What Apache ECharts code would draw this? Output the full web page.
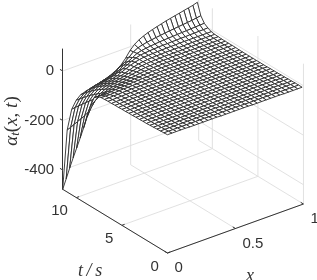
<!DOCTYPE html>
<html><head><meta charset="utf-8">
<style>html,body{margin:0;padding:0;background:#fff}#c{width:317px;height:280px}</style>
<script src="https://cdn.jsdelivr.net/npm/echarts@6/dist/echarts.min.js"></script>
</head><body><div id="c"></div>
<script>
const xs=[0,.033,.066,.099,.132,.165,.198,.231,.264,.297,.33,.363,.396,.429,.462,.495,.528,.561,.594,.627,.66,.693,.726,.759,.792,.825,.858,.891,.924,.957,.99];
const ts=[0,.383,.767,1.15,1.533,1.917,2.3,2.683,3.067,3.45,3.833,4.217,4.6,4.983,5.367,5.75,6.133,6.517,6.9,7.283,7.667,8.05,8.433,8.817,9.2,9.583,9.967,10.35,10.733,11.117,11.5];
const zRows=[
[0, 0,0,0,0,-1,-1,-1,-1,-1,-1, -1,-2,-2,-2,-2,-2,-2,-2,-3,-3, -3,-3,-3,-3,-3,-4,-4,-4,-4,-4],
[-1, -1,-1,-1,-1,-1,-1,-1,-1,-1,-2, -2,-2,-2,-2,-2,-2,-2,-3,-3,-3, -3,-3,-3,-3,-3,-4,-4,-4,-4,-4],
[-2, -2,-2,-2,-2,-2,-2,-2,-2,-2,-2, -3,-3,-3,-3,-3,-3,-3,-3,-3,-3, -4,-4,-4,-4,-4,-4,-4,-4,-4,-4],
[-3, -3,-3,-3,-3,-3,-3,-3,-3,-3,-3, -3,-3,-3,-4,-4,-4,-4,-4,-4,-4, -4,-4,-4,-4,-4,-4,-4,-5,-5,-5],
[-4, -4,-4,-4,-4,-4,-4,-4,-4,-4,-4, -4,-4,-4,-4,-4,-4,-4,-4,-5,-5, -5,-5,-5,-5,-5,-5,-5,-5,-5,-5],
[-5, -5,-5,-5,-5,-5,-5,-5,-5,-5,-5, -5,-5,-5,-5,-5,-5,-5,-5,-5,-5, -5,-5,-5,-5,-5,-5,-5,-5,-6,-6],
[-6, -5,-5,-5,-5,-5,-5,-5,-5,-5,-5, -5,-5,-5,-5,-5,-5,-5,-6,-6,-6, -6,-6,-6,-6,-6,-6,-6,-6,-6,-6],
[-6, -6,-6,-6,-6,-6,-6,-6,-6,-6,-6, -6,-6,-6,-6,-6,-6,-6,-6,-6,-6, -6,-6,-6,-6,-6,-7,-7,-7,-7,-7],
[-7, -6,-6,-6,-6,-6,-6,-6,-6,-6,-6, -6,-6,-6,-6,-6,-6,-6,-6,-6,-7, -7,-7,-7,-7,-7,-7,-7,-7,-7,-7],
[-7, -7,-6,-6,-6,-6,-6,-6,-6,-6,-6, -6,-6,-6,-7,-7,-7,-7,-7,-7,-7, -7,-7,-7,-7,-7,-7,-7,-7,-7,-7],
[-8, -7,-7,-7,-6,-6,-6,-6,-6,-6,-7, -7,-7,-7,-7,-7,-7,-7,-7,-7,-7, -7,-7,-7,-7,-7,-7,-7,-7,-7,-8],
[-8, -8,-7,-7,-7,-7,-7,-7,-7,-7,-7, -7,-7,-7,-7,-7,-7,-7,-7,-7,-7, -7,-7,-7,-7,-7,-7,-8,-8,-8,-8],
[-9, -8,-8,-7,-7,-7,-7,-7,-7,-7,-7, -7,-7,-7,-7,-7,-7,-7,-7,-7,-7, -8,-8,-8,-8,-8,-8,-8,-8,-8,-8],
[-9, -9,-8,-8,-7,-7,-7,-7,-7,-7,-7, -7,-7,-7,-7,-7,-7,-7,-8,-8,-8, -8,-8,-8,-8,-8,-8,-8,-8,-8,-8],
[-10, -9,-9,-8,-8,-8,-7,-7,-7,-7,-7, -7,-7,-7,-7,-8,-8,-8,-8,-8,-8, -8,-8,-8,-8,-8,-8,-8,-8,-8,-8],
[-10, -10,-9,-9,-8,-8,-8,-8,-8,-7,-7, -7,-7,-7,-8,-8,-8,-8,-8,-8,-8, -8,-8,-8,-8,-8,-8,-8,-8,-8,-8],
[-11, -10,-10,-9,-9,-8,-8,-8,-8,-8,-8, -8,-8,-8,-8,-8,-8,-8,-8,-8,-8, -8,-8,-8,-8,-8,-8,-8,-8,-8,-8],
[-11, -11,-10,-10,-9,-9,-9,-8,-8,-8,-8, -8,-8,-8,-8,-8,-8,-8,-8,-8,-8, -8,-8,-8,-8,-8,-8,-8,-8,-8,-8],
[-12, -12,-11,-11,-10,-10,-9,-9,-9,-8,-8, -8,-8,-8,-8,-8,-8,-8,-8,-8,-8, -8,-8,-8,-8,-8,-8,-8,-8,-8,-8],
[-13, -14,-14,-13,-12,-11,-11,-10,-10,-9,-9, -9,-8,-8,-8,-8,-8,-8,-8,-8,-8, -8,-8,-8,-8,-8,-8,-8,-8,-8,-7],
[-17, -20,-20,-18,-16,-15,-14,-13,-12,-11,-10, -10,-9,-9,-8,-8,-8,-8,-8,-8,-8, -8,-8,-8,-8,-8,-8,-7,-7,-7,-7],
[-30, -31,-30,-26,-23,-20,-19,-17,-16,-14,-13, -11,-10,-9,-9,-8,-8,-8,-8,-8,-8, -8,-8,-8,-8,-7,-7,-7,-7,-7,-7],
[-72, -58,-46,-38,-31,-27,-25,-23,-21,-18,-16, -13,-11,-10,-9,-9,-8,-8,-8,-8,-8, -7,-7,-7,-7,-7,-7,-7,-7,-7,-7],
[-125, -90,-63,-50,-40,-34,-31,-29,-26,-23,-19, -16,-13,-11,-10,-9,-8,-8,-8,-7,-7, -7,-7,-7,-7,-7,-7,-7,-7,-7,-7],
[-178, -122,-78,-61,-49,-42,-39,-36,-33,-29,-24, -19,-15,-12,-10,-9,-8,-8,-7,-7,-7, -7,-7,-6,-6,-6,-6,-6,-6,-6,-6],
[-228, -145,-92,-72,-59,-51,-47,-44,-40,-36,-31, -25,-18,-14,-11,-9,-8,-7,-7,-6,-6, -6,-6,-6,-5,-5,-5,-5,-5,-5,-5],
[-277, -165,-107,-84,-70,-61,-56,-53,-49,-44,-36, -28,-21,-15,-11,-8,-7,-6,-5,-5,-4, -4,-4,-3,-3,-3,-3,-3,-3,-3,-3],
[-325, -185,-122,-97,-82,-73,-67,-62,-58,-53,-46, -38,-28,-20,-13,-8,-6,-4,-3,-2,-1, -1,0,0,1,1,2,2,3,3,4],
[-375, -205,-137,-110,-95,-86,-80,-76,-71,-66,-60, -52,-38,-30,-20,-10,-5,-2,0,2,4, 5,6,7,8,9,10,11,12,13,14],
[-427, -226,-152,-124,-108,-100,-95,-90,-85,-80,-74, -66,-53,-42,-27,-12,-2,3,7,10,13, 15,18,20,22,24,26,28,30,33,36],
[-478, -245,-168,-138,-122,-116,-111,-106,-102,-97,-91, -83,-73,-60,-40,-15,3,15,24,31,37, 42,47,52,56,60,64,68,72,76,82]
];
const xTicks=[0,0.5,1];
const tTicks=[0,5,10];
const zTicks=[-400,-200,0];
const tMax=11.5, zMin=-478, zMax=89;

const W=240.8, H=140.3, pxX=136, pxXup=49, pxTx=9.11, pxTy=5.54, pxZ=H/(zMax-zMin);
const proj=(x,t,z)=>[(x*pxX+(tMax-t)*pxTx)/W, z+(x*pxXup-(tMax-t)*pxTy)/pxZ];

const wall=[], axes=[];
zTicks.forEach(z=>{wall.push([0,tMax,z,1,tMax,z]);wall.push([1,tMax,z,1,0,z]);});
xTicks.forEach(x=>{if(x>0)wall.push([x,tMax,zMin,x,tMax,zMax]);wall.push([x,0,zMin,x,tMax,zMin]);});
tTicks.forEach(t=>{wall.push([1,t,zMin,1,t,zMax]);wall.push([0,t,zMin,1,t,zMin]);});
axes.push([0,0,zMin,0,tMax,zMin]);axes.push([0,0,zMin,1,0,zMin]);
xTicks.forEach(x=>axes.push([x,0,zMin,x,0.3,zMin]));
tTicks.forEach(t=>axes.push([0,t,zMin,0.02,t,zMin]));
zTicks.forEach(z=>axes.push([0,tMax,z,0,tMax+0.3,z]));

const quads=[];
for(let j=ts.length-2;j>=0;j--)for(let i=xs.length-2;i>=0;i--)quads.push([i,j]);

const segSeries=(segs,color,width,z)=>({type:'custom',coordinateSystem:'cartesian2d',silent:true,z,animation:false,
  data:segs.map((s,k)=>[k]),encode:{x:0,y:0},clip:false,
  renderItem:(p,api)=>{const s=segs[p.dataIndex];const a=api.coord(proj(s[0],s[1],s[2])),b=api.coord(proj(s[3],s[4],s[5]));
    return {type:'line',shape:{x1:a[0],y1:a[1],x2:b[0],y2:b[1]},style:{stroke:color,lineWidth:width,fill:null}};}});

const tickLabels=[];
tTicks.forEach(t=>tickLabels.push({p:[0,t,zMin],text:String(t),dx:-8.5,dy:13.5,align:'right'}));
xTicks.forEach(x=>tickLabels.push({p:[x,0,zMin],text:String(x),dx:7,dy:15,align:'left'}));

const option={animation:false,backgroundColor:'#fff',
 grid:{left:62.7,top:49,width:W,height:H,containLabel:false,outerBoundsMode:'none'},
 xAxis:{type:'value',min:0,max:1,show:false},
 yAxis:{type:'value',min:zMin,max:zMax,
  axisLine:{show:true,lineStyle:{color:'#333',width:1}},axisTick:{show:false},splitLine:{show:false},
  axisLabel:{customValues:zTicks,margin:8.5,color:'#333',fontFamily:'Liberation Sans',fontSize:15}},
 series:[
  segSeries(wall,'#dedede',0.9,1),
  {type:'custom',coordinateSystem:'cartesian2d',silent:true,z:2,animation:false,clip:false,
   data:quads.map((q,k)=>[k]),encode:{x:0,y:0},
   renderItem:(p,api)=>{const [i,j]=quads[p.dataIndex];
     const pts=[[i,j],[i+1,j],[i+1,j+1],[i,j+1]].map(([a,b])=>api.coord(proj(xs[a],ts[b],zRows[b][a])));
     return {type:'polygon',shape:{points:pts},style:{fill:'#fff',stroke:'#2a2a2a',lineWidth:0.9}};}},
  segSeries(axes,'#333',1,3),
  {type:'custom',coordinateSystem:'cartesian2d',silent:true,z:4,animation:false,clip:false,
   data:tickLabels.map((s,k)=>[k]),encode:{x:0,y:0},
   renderItem:(p,api)=>{const l=tickLabels[p.dataIndex];const a=api.coord(proj(l.p[0],l.p[1],l.p[2]));
     return {type:'text',style:{text:l.text,x:a[0]+l.dx,y:a[1]+l.dy,align:l.align,verticalAlign:'middle',fill:'#333',fontFamily:'Liberation Sans',fontSize:15}};}}
 ],
 graphic:[
  {type:'text',x:12,y:121,rotation:Math.PI/2,style:{text:'{i|α}{s|t}{r|(}{i|x}{r|, }{i|t}{r|)}',align:'center',verticalAlign:'middle',
    rich:{
     i:{fontFamily:'Liberation Serif',fontStyle:'italic',fontSize:19,fill:'#333'},
     r:{fontFamily:'Liberation Serif',fontSize:19,fill:'#333'},
     s:{fontFamily:'Liberation Serif',fontStyle:'italic',fontSize:13,fill:'#333',padding:[7,0,0,0]}}}},
  {type:'text',left:78,top:262,style:{text:'t\u2009/\u2009s',fontFamily:'Liberation Serif',fontStyle:'italic',fontSize:18,fill:'#333'}},
  {type:'text',left:246,top:267,style:{text:'x',fontFamily:'Liberation Serif',fontStyle:'italic',fontSize:18,fill:'#333'}}
 ]};
const chart=echarts.init(document.getElementById('c'),null,{renderer:'canvas',width:317,height:280});
chart.setOption(option);
</script></body></html>
